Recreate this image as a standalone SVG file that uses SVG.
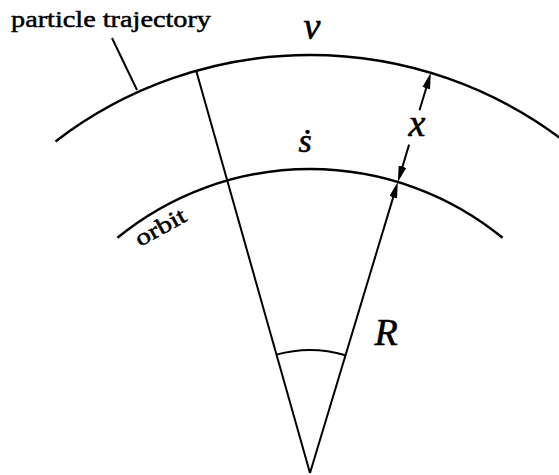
<svg xmlns="http://www.w3.org/2000/svg" width="559" height="475" viewBox="0 0 559 475">
  <style>
    .curve { fill: none; stroke: #000; stroke-width: 2.5; }
    .ln { fill: none; stroke: #000; stroke-width: 2; }
    .lbl { font-family: 'Liberation Serif', 'DejaVu Serif', serif; fill: #000; stroke: #000; stroke-width: 0.5; }
    .math { font-family: 'Liberation Serif', 'DejaVu Serif', serif; font-style: italic; fill: #000; stroke: #000; stroke-width: 0.6; }
  </style>
  <defs>
    <marker id="arrow" markerUnits="userSpaceOnUse" markerWidth="16" markerHeight="8" viewBox="0 0 16 8" refX="8" refY="4" orient="auto">
      <path d="M0,0 L16,4 L0,8 z" fill="#000"/>
    </marker>
  </defs>
  <rect width="559" height="475" fill="#fff"/>

  <g id="trajectory">
    <path class="curve" d="M55.5,141.4 A418,418 0 0 1 564.5,141.4"/>
  </g>
  <g id="orbit">
    <path class="curve" d="M117.4,237.8 A304,304 0 0 1 502.6,237.8"/>
  </g>
  <g id="angle">
    <path class="ln" d="M276.5,354.6 A123,123 0 0 1 345.5,355.3"/>
  </g>

  <g id="connectors">
    <line class="ln" x1="310" y1="473" x2="196.2" y2="70.8"/>
    <line class="ln" x1="310" y1="473" x2="395.5" y2="189.6" marker-end="url(#arrow)"/>
    <line class="ln" x1="419.5" y1="110.2" x2="428.5" y2="80.5" marker-end="url(#arrow)"/>
    <line class="ln" x1="409.1" y1="144.6" x2="400.2" y2="174.3" marker-end="url(#arrow)"/>
    <line class="ln" x1="112" y1="38" x2="137" y2="90"/>
  </g>

  <g id="labels">
    <text class="lbl" x="11" y="27" font-size="24" textLength="200" lengthAdjust="spacingAndGlyphs">particle trajectory</text>
    <text class="lbl" font-size="23" textLength="55" lengthAdjust="spacingAndGlyphs" transform="translate(140,247) rotate(-29)">orbit</text>
    <text class="math" x="312" y="39" font-size="38" text-anchor="middle">v</text>
    <text class="math" x="305" y="152" font-size="34" text-anchor="middle">ṡ</text>
    <text class="math" x="417" y="136" font-size="38" text-anchor="middle">x</text>
    <text class="math" x="386" y="345" font-size="38" text-anchor="middle">R</text>
  </g>
</svg>
